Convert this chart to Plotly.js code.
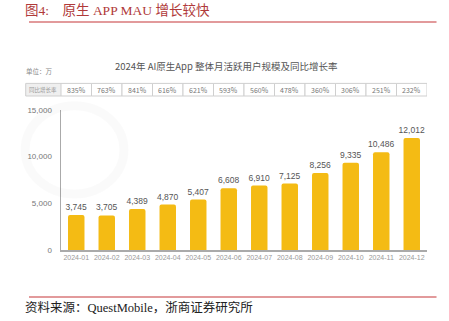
<!DOCTYPE html>
<html><head><meta charset="utf-8">
<script src="https://cdn.plot.ly/plotly-3.0.1.min.js"></script>
<style>html,body{margin:0;padding:0;background:#fff;}#chart{width:449px;height:321px;}</style>
</head><body><div id="chart"></div>
<script>
const months = ['2024-01','2024-02','2024-03','2024-04','2024-05','2024-06','2024-07','2024-08','2024-09','2024-10','2024-11','2024-12'];
const mau = [3745,3705,4389,4870,5407,6608,6910,7125,8256,9335,10486,12012];
const yoy = ['835%','763%','841%','616%','621%','593%','560%','478%','360%','306%','251%','232%'];
const yTicks = [0,5000,10000,15000];
const yTickText = ['0','5,000','10,000','15,000'];

const idx = months.map((m,i)=>i);
const sans = 'Noto Sans CJK SC, Noto Sans, sans-serif';
const serif = 'Liberation Serif, Noto Sans CJK SC, serif';

const shapes = [
  {type:'line', xref:'paper', yref:'paper', x0:-0.0875, x1:1.026, y0:1.628, y1:1.628, line:{color:'#d9797a', width:1.5}},
  {type:'line', xref:'paper', yref:'paper', x0:-0.0875, x1:1.026, y0:-0.336, y1:-0.336, line:{color:'#d9797a', width:1.5}},
  {type:'rect', xref:'paper', yref:'paper', x0:-0.0964, x1:0, y0:1.1, y1:1.19, fillcolor:'#efefef', line:{color:'#cfcfcf', width:1}},
  {type:'circle', xref:'paper', yref:'paper', x0:-0.098, x1:0.172, y0:0.40, y1:1.03, line:{color:'rgba(0,0,0,0.018)', width:9}, fillcolor:'rgba(0,0,0,0)'}
];
const annotations = [
  {xref:'paper', yref:'paper', x:-0.105, y:1.71, xanchor:'left', yanchor:'middle', showarrow:false,
   text:'图4:&nbsp;&nbsp;&nbsp; 原生 APP MAU 增长较快', font:{family:serif, size:13.5, color:'#b03a3a'}},
  {xref:'paper', yref:'paper', x:-0.105, y:-0.41, xanchor:'left', yanchor:'middle', showarrow:false,
   text:'资料来源：QuestMobile，浙商证券研究所', font:{family:serif, size:12.5, color:'#222'}},
  {xref:'paper', yref:'paper', x:0.453, y:1.315, xanchor:'center', yanchor:'middle', showarrow:false,
   text:'2024年 AI原生App 整体月活跃用户规模及同比增长率', font:{family:sans, size:9.5, color:'#555'}},
  {xref:'paper', yref:'paper', x:-0.1, y:1.28, xanchor:'left', yanchor:'middle', showarrow:false,
   text:'单位：万', font:{family:sans, size:6.5, color:'#888'}},
  {xref:'paper', yref:'paper', x:-0.0482, y:1.145, xanchor:'center', yanchor:'middle', showarrow:false,
   text:'同比增长率', font:{family:sans, size:5.5, color:'#999'}}
];
yoy.forEach((t,i)=>{
  shapes.push({type:'rect', xref:'x', yref:'paper', x0:idx[i]-0.5, x1:idx[i]+0.5, y0:1.1, y1:1.19, fillcolor:'#fff', line:{color:'#cfcfcf', width:1}});
  annotations.push({xref:'x', yref:'paper', x:idx[i], y:1.145, xanchor:'center', yanchor:'middle', showarrow:false,
    text:t, font:{family:sans, size:7, color:'#777'}});
});

const trace = {
  type:'bar', x:idx, y:mau,
  marker:{color:'#f4bb14', cornerradius:2},
  width:0.54,
  text:mau.map(v=>v.toLocaleString('en-US')), textposition:'outside', constraintext:'none',
  textfont:{family:'Liberation Sans, Arial, sans-serif', size:8.5, color:'#555'},
  cliponaxis:false, hoverinfo:'skip'
};

const layout = {
  width:449, height:321,
  margin:{l:61, r:22, t:110, b:71},
  paper_bgcolor:'#fff', plot_bgcolor:'rgba(0,0,0,0)',
  showlegend:false,
  xaxis:{range:[-0.5,11.5], tickmode:'array', tickvals:idx, ticktext:months,
    showline:true, linecolor:'#aaa', linewidth:1.5, ticks:'', showgrid:false, zeroline:false,
    tickfont:{family:'Liberation Sans, Arial, sans-serif', size:7, color:'#999'}},
  yaxis:{range:[0,15000], tickmode:'array', tickvals:yTicks, ticktext:yTickText,
    showline:true, linecolor:'#aaa', linewidth:1.5, ticks:'', showgrid:false, zeroline:false,
    ticklabelstandoff:6,
    tickfont:{family:'Liberation Sans, Arial, sans-serif', size:8, color:'#777'}},
  shapes:shapes, annotations:annotations
};
Plotly.newPlot('chart',[trace],layout,{staticPlot:true});
</script></body></html>
